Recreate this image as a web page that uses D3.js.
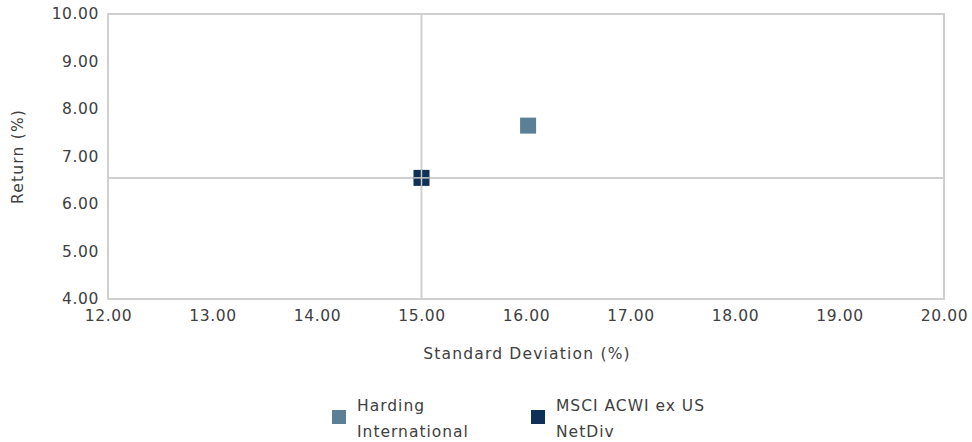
<!DOCTYPE html>
<html><head><meta charset="utf-8">
<script src="https://cdn.jsdelivr.net/npm/d3@7"></script>
<style>body{margin:0;background:#fff;} text{font-family:"DejaVu Sans",sans-serif;fill:#404040;}</style>
</head><body>
<svg id="c" width="972" height="442"></svg>
<script>
const seriesNames = ["Harding International", "MSCI ACWI ex US NetDiv"];
const stdDev = [16.02, 15.00];
const returns = [7.65, 6.55];
const colors = ["#5B7F95", "#0F3057"];
const xTicks = [12,13,14,15,16,17,18,19,20];
const yTicks = [4,5,6,7,8,9,10];
const benchmarkIndex = 1;

const svg = d3.select("#c");
const m = {l:108, r:944, t:14, b:299};
const x = d3.scaleLinear().domain([12,20]).range([m.l, m.r]);
const y = d3.scaleLinear().domain([4,10]).range([m.b, m.t]);
const fs = 15.5;

svg.append("rect").attr("x", m.l).attr("y", m.t).attr("width", m.r-m.l).attr("height", m.b-m.t)
  .attr("fill","none").attr("stroke","#d0d0d0").attr("stroke-width",2);

svg.append("line").attr("x1", x(stdDev[benchmarkIndex])).attr("x2", x(stdDev[benchmarkIndex]))
  .attr("y1", m.t).attr("y2", m.b).attr("stroke","#d0d0d0").attr("stroke-width",2);
svg.append("line").attr("x1", m.l).attr("x2", m.r)
  .attr("y1", y(returns[benchmarkIndex])).attr("y2", y(returns[benchmarkIndex])).attr("stroke","#d0d0d0").attr("stroke-width",2);

const xAxis = svg.append("g").attr("transform", `translate(0,${m.b})`)
  .call(d3.axisBottom(x).tickValues(xTicks).tickFormat(d3.format(".2f")).tickSize(0).tickPadding(11));
xAxis.select(".domain").remove();
xAxis.selectAll("text").attr("font-size", fs).style("fill","#404040").style("font-family","DejaVu Sans").style("letter-spacing","0.6px");

const yAxis = svg.append("g").attr("transform", `translate(${m.l},0)`)
  .call(d3.axisLeft(y).tickValues(yTicks).tickFormat(d3.format(".2f")).tickSize(0).tickPadding(9));
yAxis.select(".domain").remove();
yAxis.selectAll("text").attr("font-size", fs).style("fill","#404040").style("font-family","DejaVu Sans").style("letter-spacing","0.6px");

const s = 16;
svg.selectAll("rect.pt").data(seriesNames.map((n,i)=>({n, sd:stdDev[i], r:returns[i], c:colors[i]})))
  .enter().append("rect").attr("class","pt")
  .attr("x", d=>x(d.sd)-s/2).attr("y", d=>y(d.r)-s/2).attr("width", s).attr("height", s)
  .attr("fill", d=>d.c);
svg.append("line").attr("x1", x(stdDev[benchmarkIndex])).attr("x2", x(stdDev[benchmarkIndex]))
  .attr("y1", y(returns[benchmarkIndex])-s/2).attr("y2", y(returns[benchmarkIndex])+s/2).attr("stroke","#c8c8c8").attr("stroke-width",1.5);
svg.append("line").attr("x1", x(stdDev[benchmarkIndex])-s/2).attr("x2", x(stdDev[benchmarkIndex])+s/2)
  .attr("y1", y(returns[benchmarkIndex])).attr("y2", y(returns[benchmarkIndex])).attr("stroke","#c8c8c8").attr("stroke-width",1.5);

svg.append("text").attr("x", 527).attr("y", 359).attr("text-anchor","middle").attr("font-size",fs)
  .style("letter-spacing","1.2px").text("Standard Deviation (%)");
svg.append("text").attr("transform", `translate(23,${(m.t+m.b)/2}) rotate(-90)`).attr("text-anchor","middle").attr("font-size",fs)
  .style("letter-spacing","1.2px").text("Return (%)");

const legend = [
  {i:0, x:332, lines:["Harding","International"]},
  {i:1, x:531, lines:["MSCI ACWI ex US","NetDiv"]}
];
legend.forEach(l=>{
  svg.append("rect").attr("x", l.x).attr("y", 410).attr("width",14).attr("height",14).attr("fill", colors[l.i]);
  l.lines.forEach((t,k)=>{
    svg.append("text").attr("x", l.x+25).attr("y", 411+k*26).attr("font-size",fs).style("letter-spacing","1px").text(t);
  });
});
</script>
</body></html>
